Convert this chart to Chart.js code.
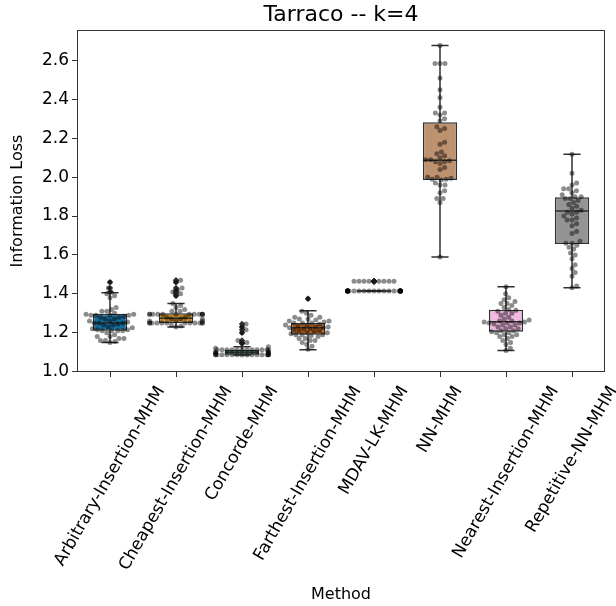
<!DOCTYPE html>
<html>
<head>
<meta charset="utf-8">
<script src="https://cdn.jsdelivr.net/npm/chart.js@4"></script>
<style>
  html, body { margin: 0; padding: 0; background: #fff; }
  #wrap { width: 616px; height: 606px; }
</style>
</head>
<body>
<div id="wrap"><canvas id="chart" width="616" height="606"></canvas></div>
<script>
// ─── Data ───
const categories = [
    'Arbitrary-Insertion-MHM', 'Cheapest-Insertion-MHM', 'Concorde-MHM',
    'Farthest-Insertion-MHM', 'MDAV-LK-MHM', 'NN-MHM',
    'Nearest-Insertion-MHM', 'Repetitive-NN-MHM',
];
const yTicks = [1.0, 1.2, 1.4, 1.6, 1.8, 2.0, 2.2, 2.4, 2.6];

// box statistics
const q1 = [1.21, 1.25, 1.087, 1.19, 1.415, 1.985, 1.205, 1.656];
const median = [1.25, 1.275, 1.10, 1.225, 1.415, 2.087, 1.256, 1.826];
const q3 = [1.297, 1.30, 1.113, 1.25, 1.415, 2.282, 1.318, 1.897];
const whiskerLo = [1.15, 1.23, 1.085, 1.113, 1.415, 1.59, 1.108, 1.431];
const whiskerHi = [1.405, 1.35, 1.128, 1.313, 1.415, 2.677, 1.436, 2.118];

// individual runs (swarm points)
const arbitrary = [1.46, 1.43, 1.41, 1.40, 1.39, 1.38, 1.33, 1.32, 1.31, 1.31, 1.30,
    1.295, 1.295, 1.29, 1.29, 1.29, 1.29, 1.285, 1.28, 1.28, 1.27, 1.27, 1.26, 1.26,
    1.255, 1.25, 1.25, 1.25, 1.245, 1.24, 1.24, 1.23, 1.225, 1.22, 1.215, 1.215,
    1.21, 1.21, 1.21, 1.21, 1.20, 1.19, 1.18, 1.18, 1.17, 1.17, 1.16, 1.16, 1.155, 1.15];
const cheapest = [1.47, 1.46, 1.43, 1.42, 1.41, 1.40, 1.39, 1.35, 1.34, 1.33, 1.32, 1.31, 1.31,
    1.295, 1.295, 1.295, 1.295, 1.295, 1.295, 1.295, 1.295, 1.295, 1.295, 1.295, 1.295,
    1.28, 1.28, 1.27, 1.27, 1.27, 1.26, 1.26, 1.26,
    1.25, 1.25, 1.25, 1.25, 1.25, 1.25, 1.25, 1.25, 1.25, 1.25, 1.25, 1.25,
    1.24, 1.235, 1.23];
const concorde = [1.245, 1.23, 1.215, 1.20, 1.16, 1.15, 1.145, 1.128, 1.12,
    1.113, 1.113, 1.113, 1.113, 1.113, 1.113, 1.113, 1.113, 1.113, 1.113, 1.113, 1.113,
    1.105, 1.10, 1.10, 1.10, 1.095, 1.095,
    1.087, 1.087, 1.087, 1.087, 1.087, 1.087, 1.087, 1.087, 1.087, 1.087, 1.087, 1.087, 1.087, 1.087,
    1.085, 1.085];
const farthest = [1.375, 1.31, 1.30, 1.29, 1.28, 1.28, 1.27, 1.27, 1.265, 1.26, 1.26, 1.255,
    1.25, 1.25, 1.25, 1.245, 1.24, 1.24, 1.235, 1.23, 1.23, 1.225, 1.225, 1.22, 1.22, 1.215,
    1.21, 1.21, 1.205, 1.20, 1.20, 1.195, 1.19, 1.19, 1.19, 1.185, 1.18, 1.17, 1.17, 1.16,
    1.16, 1.15, 1.14, 1.13, 1.115];
const mdav = [1.465, 1.465, 1.465, 1.465, 1.465, 1.465, 1.465, 1.465, 1.465,
    1.415, 1.415, 1.415, 1.415, 1.415, 1.415, 1.415, 1.415, 1.415, 1.415,
    1.415, 1.415, 1.415, 1.415, 1.415, 1.415, 1.415, 1.415, 1.415, 1.415,
    1.415, 1.415, 1.415, 1.415, 1.415, 1.415, 1.415, 1.415, 1.415, 1.415];
const nn = [2.677, 2.585, 2.585, 2.585, 2.51, 2.45, 2.41, 2.36, 2.33, 2.33, 2.32, 2.30, 2.29,
    2.26, 2.25, 2.24, 2.18, 2.17, 2.13, 2.12, 2.11, 2.10, 2.09, 2.09, 2.085, 2.08, 2.08, 2.07,
    2.05, 2.04, 2.00, 2.00, 1.995, 1.99, 1.99, 1.985, 1.97, 1.96, 1.96, 1.93, 1.92, 1.89, 1.89,
    1.87, 1.59];
const nearest = [1.436, 1.40, 1.38, 1.37, 1.36, 1.35, 1.35, 1.34, 1.33, 1.32, 1.315, 1.31,
    1.30, 1.30, 1.29, 1.28, 1.27, 1.265, 1.26, 1.26, 1.255, 1.255, 1.25, 1.25, 1.25, 1.245,
    1.24, 1.24, 1.23, 1.23, 1.22, 1.22, 1.21, 1.21, 1.205, 1.20, 1.20, 1.19, 1.19, 1.18, 1.18,
    1.17, 1.16, 1.15, 1.14, 1.12, 1.108];
const repetitive = [2.118, 2.02, 1.97, 1.96, 1.94, 1.94, 1.93, 1.92, 1.91, 1.90, 1.90, 1.89,
    1.89, 1.88, 1.87, 1.86, 1.85, 1.84, 1.83, 1.82, 1.82, 1.81, 1.80, 1.79, 1.78, 1.78, 1.76,
    1.75, 1.72, 1.71, 1.67, 1.66, 1.66, 1.65, 1.64, 1.63, 1.61, 1.60, 1.58, 1.55, 1.53, 1.51,
    1.49, 1.44, 1.431];

const runs = [arbitrary, cheapest, concorde, farthest, mdav, nn, nearest, repetitive];

// ─── Style ───
const boxColors = ['#176d9c', '#c38820', '#168a6a', '#ba611b', '#c283b6', '#bd926e', '#f1b9e0', '#949494'];
const lineColor = '#303030';
const FONT = "'DejaVu Sans', sans-serif";
const BOX_W = 0.52;
const CAP_W = 0.26;

// Beeswarm offsets (pixel space, then back to category units)
const PX_X = 66;      // px per category
const PX_Y = 194.4;   // px per y unit
const DOT = 5;        // marker diameter

function swarmOffsets(vals) {
    const ys = vals.map(v => -v * PX_Y);
    const idx = ys.map((_, i) => i).sort((a, b) => ys[b] - ys[a]);
    const placed = [];
    const xs = new Array(vals.length);
    const limit = 0.4 * PX_X;
    for (const i of idx) {
        const y = ys[i];
        const near = placed.filter(p => Math.abs(p.y - y) < DOT);
        const cands = [0];
        near.forEach(p => {
            const dx = Math.sqrt(DOT * DOT - (p.y - y) ** 2);
            cands.push(p.x + dx, p.x - dx);
        });
        cands.sort((a, b) => Math.abs(a) - Math.abs(b));
        const x = cands.find(c => near.every(p => (p.x - c) ** 2 + (p.y - y) ** 2 >= DOT * DOT - 1e-6));
        placed.push({ x, y });
        xs[i] = Math.max(-limit, Math.min(limit, x)) / PX_X;
    }
    return xs;
}

const swarmPoints = [];
const flierPoints = [];
runs.forEach((vals, i) => {
    const off = swarmOffsets(vals);
    vals.forEach((v, k) => {
        swarmPoints.push({ x: i + off[k], y: v });
        if (v < whiskerLo[i] - 1e-9 || v > whiskerHi[i] + 1e-9) flierPoints.push({ x: i, y: v });
    });
});

// whiskers + caps as line segments separated by gaps
const whiskerSegs = [];
const medianSegs = [];
categories.forEach((_, i) => {
    const gap = { x: i, y: null };
    whiskerSegs.push({ x: i, y: whiskerLo[i] }, { x: i, y: q1[i] }, gap,
        { x: i, y: q3[i] }, { x: i, y: whiskerHi[i] }, gap,
        { x: i - CAP_W / 2, y: whiskerLo[i] }, { x: i + CAP_W / 2, y: whiskerLo[i] }, gap,
        { x: i - CAP_W / 2, y: whiskerHi[i] }, { x: i + CAP_W / 2, y: whiskerHi[i] }, gap);
    medianSegs.push({ x: i - BOX_W / 2, y: median[i] }, { x: i + BOX_W / 2, y: median[i] }, gap);
});

// ─── Plugins ───
const framePlugin = {
    id: 'frame',
    afterDraw(chart) {
        const { ctx, chartArea: a } = chart;
        ctx.save();
        ctx.strokeStyle = '#333';
        ctx.lineWidth = 1;
        ctx.strokeRect(a.left + 0.5, a.top + 0.5, a.right - a.left - 1, a.bottom - a.top - 1);
        ctx.restore();
    },
};

const xLabelPlugin = {
    id: 'xLabels',
    afterDraw(chart) {
        const { ctx, chartArea: a } = chart;
        const sx = chart.scales.x;
        const ang = 60 * Math.PI / 180;
        const h = 19;
        ctx.save();
        ctx.font = `17px ${FONT}`;
        ctx.fillStyle = '#000';
        ctx.textAlign = 'center';
        ctx.textBaseline = 'middle';
        categories.forEach((label, i) => {
            const w = ctx.measureText(label).width;
            const bh = w * Math.sin(ang) + h * Math.cos(ang);
            const cx = sx.getPixelForValue(i);
            const cy = a.bottom + 11 + bh / 2;
            ctx.save();
            ctx.translate(cx, cy);
            ctx.rotate(-ang);
            ctx.fillText(label, 0, 0);
            ctx.restore();
        });
        ctx.restore();
    },
};

// ─── Chart ───
new Chart(document.getElementById('chart'), {
    data: {
        datasets: [
            {
                type: 'scatter',
                data: swarmPoints,
                backgroundColor: 'rgba(0, 0, 0, 0.45)',
                borderWidth: 0,
                pointRadius: DOT / 2,
                order: 1,
            },
            {
                type: 'scatter',
                data: flierPoints,
                backgroundColor: lineColor,
                borderWidth: 0,
                pointStyle: 'rectRot',
                pointRadius: 3.2,
                order: 2,
            },
            {
                type: 'scatter',
                data: medianSegs,
                showLine: true,
                spanGaps: false,
                borderColor: lineColor,
                borderWidth: 1.5,
                pointRadius: 0,
                order: 3,
            },
            {
                type: 'scatter',
                data: whiskerSegs,
                showLine: true,
                spanGaps: false,
                borderColor: lineColor,
                borderWidth: 1.5,
                pointRadius: 0,
                order: 5,
            },
            {
                type: 'bar',
                xAxisID: 'xc',
                data: categories.map((_, i) => [q1[i], q3[i]]),
                backgroundColor: boxColors,
                borderColor: lineColor,
                borderWidth: 1.5,
                borderSkipped: false,
                grouped: false,
                barPercentage: BOX_W,
                categoryPercentage: 1,
                order: 4,
            },
        ],
    },
    options: {
        responsive: false,
        animation: false,
        layout: { padding: { top: 0, right: 11, bottom: 0, left: 0 } },
        plugins: {
            legend: { display: false },
            tooltip: { enabled: false },
            title: {
                display: true,
                text: 'Tarraco -- k=4',
                color: '#000',
                font: { family: FONT, size: 22, weight: 'normal' },
                padding: { top: 2, bottom: 1.6 },
                fullSize: false,
            },
        },
        scales: {
            x: {
                type: 'linear',
                min: -0.5,
                max: 7.5,
                afterBuildTicks: s => { s.ticks = categories.map((_, i) => ({ value: i })); },
                afterFit: s => { s.height = 234; },
                ticks: { display: false },
                grid: { drawOnChartArea: false, drawTicks: true, tickLength: 5, tickColor: '#333' },
                border: { display: false },
                title: {
                    display: true,
                    text: 'Method',
                    color: '#000',
                    font: { family: FONT, size: 16 },
                    padding: { top: 4, bottom: 2 },
                },
            },
            xc: {
                type: 'category',
                labels: categories,
                display: false,
                offset: true,
            },
            y: {
                type: 'linear',
                min: 0.998,
                max: 2.757,
                afterBuildTicks: s => { s.ticks = yTicks.map(v => ({ value: v })); },
                afterFit: s => { s.width = 77; },
                ticks: {
                    color: '#000',
                    font: { family: FONT, size: 17 },
                    padding: 3,
                    callback: v => v.toFixed(1),
                },
                grid: { drawOnChartArea: false, drawTicks: true, tickLength: 5, tickColor: '#333' },
                border: { display: false },
                title: {
                    display: true,
                    text: 'Information Loss',
                    color: '#000',
                    font: { family: FONT, size: 16 },
                    padding: { top: 8, bottom: 4 },
                },
            },
        },
    },
    plugins: [framePlugin, xLabelPlugin],
});
</script>
</body>
</html>
